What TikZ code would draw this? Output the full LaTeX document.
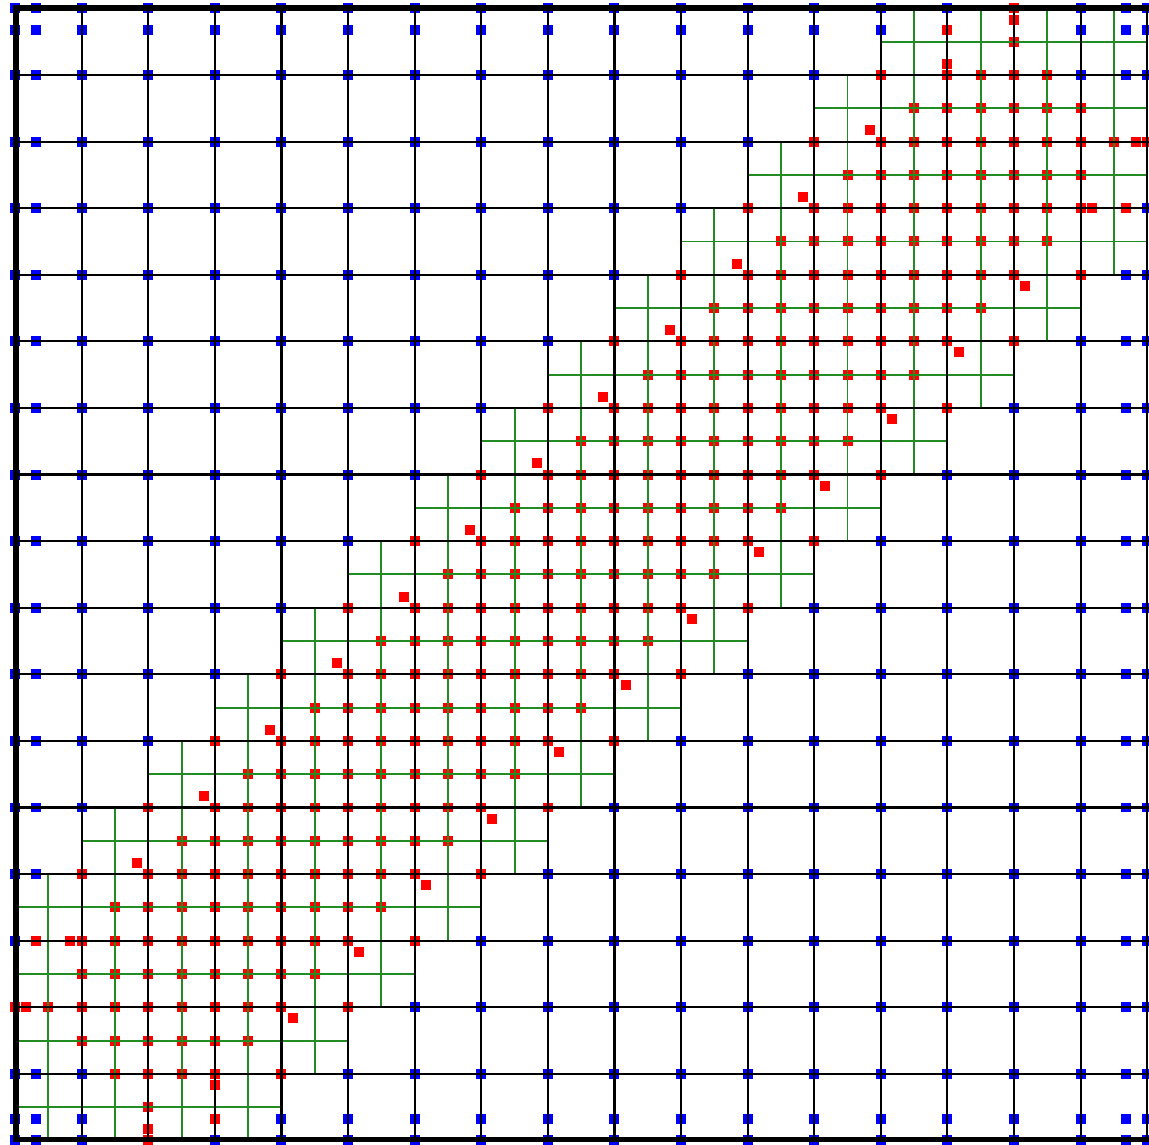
\documentclass[tikz,border=0pt]{standalone}
\definecolor{meshgreen}{RGB}{34,139,34}
\tikzset{
  gridline/.style={draw=black, line width=0.9pt},
  fineline/.style={draw=meshgreen, line width=0.8pt},
  frameline/.style={draw=black, line width=2.5pt, line join=miter},
  bluept/.style={fill=blue},
  redpt/.style={fill=red},
}
\begin{document}
\begin{tikzpicture}[x=1cm,y=1cm]
\useasboundingbox (-0.227,-0.066) rectangle (17.027,17.126);
% ---- blue points (coarse nodes and boundary rows/columns)
\foreach \a in {0,...,19}{
  \foreach \b in {0,...,19}{
    \pgfmathsetmacro\xx{ifthenelse(\a==0,0,ifthenelse(\a==1,0.32,ifthenelse(\a==18,16.68,ifthenelse(\a==19,17,\a-1))))}
    \pgfmathsetmacro\yy{ifthenelse(\b==0,0,ifthenelse(\b==1,0.32,ifthenelse(\b==18,16.68,ifthenelse(\b==19,17,\b-1))))}
    \pgfmathtruncatemacro\inner{(\a>1)*(\a<18)*(\b>1)*(\b<18)*(abs(\a-\b)<4)*(1-(\a==2)*(\b==2))*(1-(\a==17)*(\b==17))}
    \pgfmathtruncatemacro\code{\a*100+\b}
    \pgfmathtruncatemacro\spec{(\code==3)+(\code==300)+(\code==1916)+(\code==1619)+(\code==104)+(\code==401)+(\code==1815)+(\code==1518)+(\code==103)+(\code==301)+(\code==1816)+(\code==1618)}
    \ifnum\numexpr\inner+\spec\relax=0
      \fill[bluept] (\xx-0.075,\yy-0.075) rectangle ++(0.15,0.15);
    \fi
  }
}
% ---- red points: fine nodes inside the band
\foreach \i in {2,...,32}{
  \foreach \j in {2,...,32}{
    \pgfmathtruncatemacro\ok{(abs(\i-\j)<5)*(1-(\i==2)*(\j==2))*(1-(\i==32)*(\j==32))}
    \ifnum\ok=1
      \fill[redpt] (\i/2-0.075,\j/2-0.075) rectangle ++(0.15,0.15);
    \fi
  }
}
% coarse nodes at distance 3
\foreach \k in {1,...,13}{
  \fill[redpt] (\k-0.075,\k+3-0.075) rectangle ++(0.15,0.15);
  \fill[redpt] (\k+3-0.075,\k-0.075) rectangle ++(0.15,0.15);
}
% special boundary nodes
\foreach \p/\q in {0/2,0.5/2,0.32/3,2/0,2/0.5,3/0.32,17/15,16.5/15,16.68/14,15/17,15/16.5,14/16.68}{
  \fill[redpt] (\p-0.075,\q-0.075) rectangle ++(0.15,0.15);
}
% interface points
\foreach \k in {1,...,12}{
  \fill[redpt] (\k+5/6-0.075,\k+19/6-0.075) rectangle ++(0.15,0.15);
}
\foreach \k in {4,...,15}{
  \fill[redpt] (\k+1/6-0.075,\k-13/6-0.075) rectangle ++(0.15,0.15);
}
\foreach \p/\q in {0.17/2,0.83/3,14/16.17,15/16.83,2/0.17,3/0.83,16.17/14,16.83/15}{
  \fill[redpt] (\p-0.075,\q-0.075) rectangle ++(0.15,0.15);
}
% ---- refined (green) mesh lines
\foreach \c in {0,...,16}{
  \pgfmathsetmacro\lo{max(0,\c-3)}
  \pgfmathsetmacro\hi{min(17,\c+4)}
  \draw[fineline] (\lo,\c+0.5) -- (\hi,\c+0.5);
  \draw[fineline] (\c+0.5,\lo) -- (\c+0.5,\hi);
}
% ---- coarse (black) mesh lines
\foreach \c in {1,...,16}{
  \draw[gridline] (\c,0) -- (\c,17);
  \draw[gridline] (0,\c) -- (17.1,\c);
}
\draw[gridline] (17,0) -- (17,17);
% ---- frame
\draw[frameline] (17.3,17.01) -- (0.015,17.01) -- (0.015,0.015) -- (17.3,0.015);
\end{tikzpicture}
\end{document}
